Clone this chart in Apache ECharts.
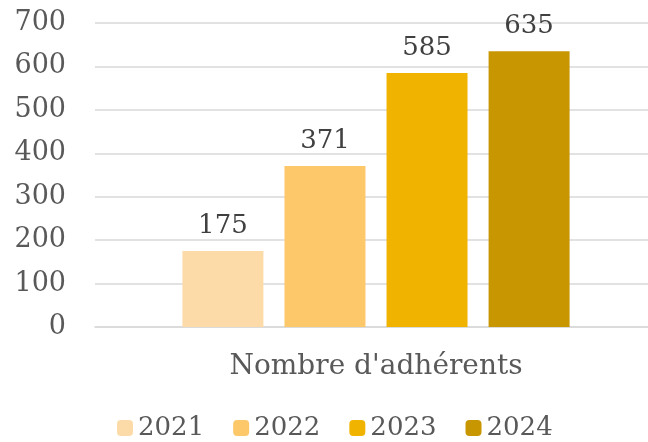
<!DOCTYPE html>
<html><head><meta charset="utf-8">
<style>html,body{margin:0;padding:0;background:#fff}#c{width:648px;height:442px}</style>
<script src="https://cdn.jsdelivr.net/npm/echarts@6/dist/echarts.min.js"></script>
</head><body><div id="c"></div>
<script>
const categories = ["Nombre d'adhérents"];
const seriesNames = ["2021", "2022", "2023", "2024"];
const values2021 = [175];
const values2022 = [371];
const values2023 = [585];
const values2024 = [635];
const colors = ["#FDDBA8", "#FDC86A", "#F0B400", "#C89600"];
const yTicks = [0, 100, 200, 300, 400, 500, 600, 700];

const font = "DejaVu Serif";
const allValues = [values2021, values2022, values2023, values2024];
const chart = echarts.init(document.getElementById('c'));
chart.setOption({
  animation: false,
  color: colors,
  grid: { left: 95, width: 562, top: 23, height: 304, outerBoundsMode: 'none', containLabel: false },
  legend: {
    bottom: -4, left: 112,
    itemWidth: 16, itemHeight: 16, itemGap: 29,
    textStyle: { fontFamily: font, fontSize: 26, color: '#595959' },
    data: seriesNames
  },
  xAxis: {
    type: 'category', data: categories,
    axisLine: { lineStyle: { color: '#D9D9D9', width: 1.5 } },
    axisTick: { show: false },
    axisLabel: { fontFamily: font, fontSize: 28, color: '#595959', margin: 26 }
  },
  yAxis: {
    type: 'value', min: yTicks[0], max: yTicks[yTicks.length - 1], interval: 100,
    axisLine: { show: false }, axisTick: { show: false },
    splitLine: { lineStyle: { color: '#D9D9D9', width: 1.5 } },
    axisLabel: { fontFamily: font, fontSize: 27, color: '#595959', margin: 29 }
  },
  series: seriesNames.map((n, i) => ({
    name: n, type: 'bar', data: allValues[i],
    barWidth: 81, barGap: '26%',
    label: { show: true, position: 'top', distance: 12, fontFamily: font, fontSize: 26, color: '#404040' }
  }))
});
</script></body></html>
